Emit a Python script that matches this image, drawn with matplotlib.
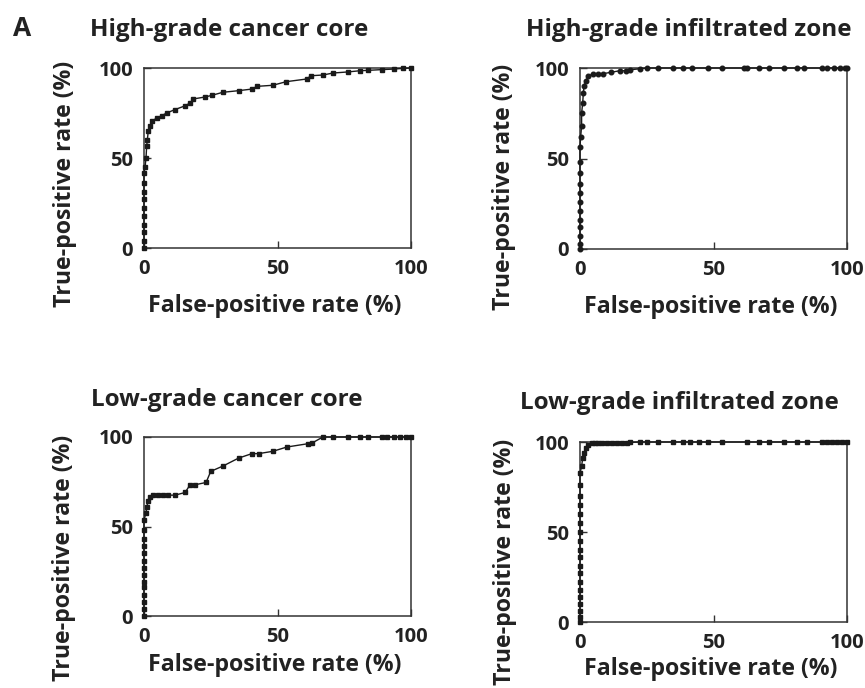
import matplotlib
matplotlib.use('Agg')
import matplotlib.pyplot as plt

plt.rcParams['font.family'] = ['Open Sans', 'DejaVu Sans']
plt.rcParams['font.weight'] = 'bold'

# ROC curves (false-positive rate %, true-positive rate %)
hg_core_fpr = [0, 0, 0, 0, 0, 0, 0, 0, 0, 0, 0.4, 0.75, 1, 1.25, 1.6, 2.25, 2.9, 4.75, 6.6, 8.5,
               11.6, 15.4, 17.3, 18.5, 22.9, 25.4, 29.5, 35.4, 40.4, 42.3, 48.25, 53.25, 61,
               62.5, 67, 70.75, 76.25, 81, 84, 89, 93.5, 97, 100]
hg_core_tpr = [0, 4, 9, 13, 18, 22, 27, 31, 36, 41.7, 45, 50, 56.5, 60, 65, 67.6, 70.4, 72.2, 73.5, 75,
               76.9, 79, 80.6, 82.8, 83.9, 84.8, 86.5, 87.4, 88.3, 89.8, 90.4, 92.4, 93.9,
               95.7, 96.1, 97.2, 97.8, 98.5, 98.7, 99.1, 99.4, 99.8, 100]

hg_zone_fpr = [0, 0, 0, 0, 0, 0, 0, 0, 0, 0, 0, 0, 0.25, 0.6, 0.6, 1, 1.25, 1.5, 2.25, 3.1, 5, 6.9,
               8.75, 11.5, 15, 17.25, 18.75, 22.5, 25, 29.4, 35, 38.75, 41.9, 48.1, 53.1, 61.25,
               62.5, 66.9, 70.6, 76.25, 81.25, 83.75, 90.6, 92.5, 95, 97.5, 99.4, 100]
hg_zone_tpr = [0, 3, 7, 12, 16, 21, 26, 31, 36, 42, 48, 56.6, 62, 68, 75, 80.6, 86, 90, 93, 95.4,
               96.9, 96.9, 96.9, 97.6, 98.5, 98.5, 99, 99.6, 100, 100, 100, 100, 100, 100, 100,
               100, 100, 100, 100, 100, 100, 100, 100, 100, 100, 100, 100, 100]

lg_core_fpr = [0, 0, 0, 0, 0, 0, 0, 0, 0, 0, 0, 0, 0, 0, 0.75, 1, 1.6, 2.25, 3.25, 5.4, 7.25, 9.1,
               11.6, 15.4, 17.25, 19.1, 23.25, 25, 29.75, 35.4, 40.4, 42.9, 48.25, 53.5, 61.6,
               62.9, 67, 70.75, 76.25, 81, 84, 89, 91, 93.5, 96, 98, 100]
lg_core_tpr = [0, 4, 8, 12, 16, 19, 23, 27, 31, 35, 39, 43, 48, 53.7, 57.5, 61, 64, 66.6, 67.5,
               67.5, 67.5, 67.5, 67.5, 69, 73.3, 73.3, 74.6, 80.8, 83.9, 88.2, 90.7, 90.7, 92,
               94.4, 96.3, 96.6, 100, 100, 100, 100, 100, 100, 100, 100, 100, 100, 100]

lg_zone_fpr = [0, 0, 0, 0, 0, 0, 0, 0, 0, 0, 0, 0, 0, 0, 0, 0, 0, 0, 0, 0.6, 1, 1.5, 2.25, 3.1, 4.4,
               5.6, 6.9, 8.1, 10, 11.9, 13.75, 15.6, 17.5, 18.75, 22.5, 25, 29.4, 35, 38.75,
               41.25, 44.4, 48.1, 53.1, 62.5, 66.9, 70.6, 76.25, 81.25, 85, 90.6, 92.5, 94.4,
               96.25, 98.1, 100]
lg_zone_tpr = [0, 3, 6, 10, 14, 18, 22, 27, 31, 36, 40, 45, 50, 55, 60, 65, 70, 76, 82.7, 86.4, 91,
               93.7, 96.7, 98.5, 99.3, 99.3, 99.4, 99.4, 99.5, 99.5, 99.6, 99.6, 99.7, 99.8, 100,
               100, 100, 100, 100, 100, 100, 100, 100, 100, 100, 100, 100, 100, 100, 100, 100,
               100, 100, 100, 100]

titles = ['High-grade cancer core', 'High-grade infiltrated zone',
          'Low-grade cancer core', 'Low-grade infiltrated zone']
curves = [(hg_core_fpr, hg_core_tpr, 's'), (hg_zone_fpr, hg_zone_tpr, 'o'),
          (lg_core_fpr, lg_core_tpr, 's'), (lg_zone_fpr, lg_zone_tpr, 's')]
ticks = [0, 50, 100]

W, H = 865, 688
fig = plt.figure(figsize=(W / 100, H / 100), dpi=100)

# axes boxes in pixels: left, top, right, bottom
boxes = [(144, 68, 411, 248), (580, 68, 847, 249), (144, 437, 411, 616), (580, 442, 847, 622)]
title_pos = [(229, 30), (689, 30), (227, 400), (679, 403)]
# (y, x) label coords in axes fractions
ylab = [(0.356, -0.251), (0.343, -0.24), (0.325, -0.255), (0.335, -0.236)]
xlab = [-0.255, -0.255, -0.207, -0.195]

for i, (l, t, r, b) in enumerate(boxes):
    ax = fig.add_axes([l / W, 1 - b / H, (r - l) / W, (b - t) / H])
    fpr, tpr, mk = curves[i]
    ax.plot(fpr, tpr, color='#1a1a1a', lw=1.0, marker=mk, ms=3.3, clip_on=False, zorder=3)
    ax.set_xlim(0, 100)
    ax.set_ylim(0, 100)
    ax.set_xticks(ticks)
    ax.set_yticks(ticks)
    ax.tick_params(direction='in', length=5, width=1, labelsize=14.5, pad=8, color='#333333')
    for lab in ax.get_xticklabels() + ax.get_yticklabels():
        lab.set_fontweight('bold')
        lab.set_color('#222222')
    for sp in ax.spines.values():
        sp.set_color('#333333')
        sp.set_linewidth(1.1)
    ax.set_xlabel('False-positive rate (%)', fontsize=16.7, fontweight='bold', color='#222222')
    ax.set_ylabel('True-positive rate (%)', fontsize=16.7, fontweight='bold', color='#222222')
    ax.xaxis.set_label_coords(0.49, xlab[i])
    ax.yaxis.set_label_coords(ylab[i][1], ylab[i][0])
    tx, ty = title_pos[i]
    fig.text(tx / W, 1 - ty / H, titles[i], fontsize=17.5, fontweight='bold',
             color='#222222', ha='center', va='center')

fig.text(22 / W, 1 - 28 / H, 'A', fontsize=19, fontweight='bold', color='#222222',
         ha='center', va='center')

fig.savefig('out.png', dpi=100)
